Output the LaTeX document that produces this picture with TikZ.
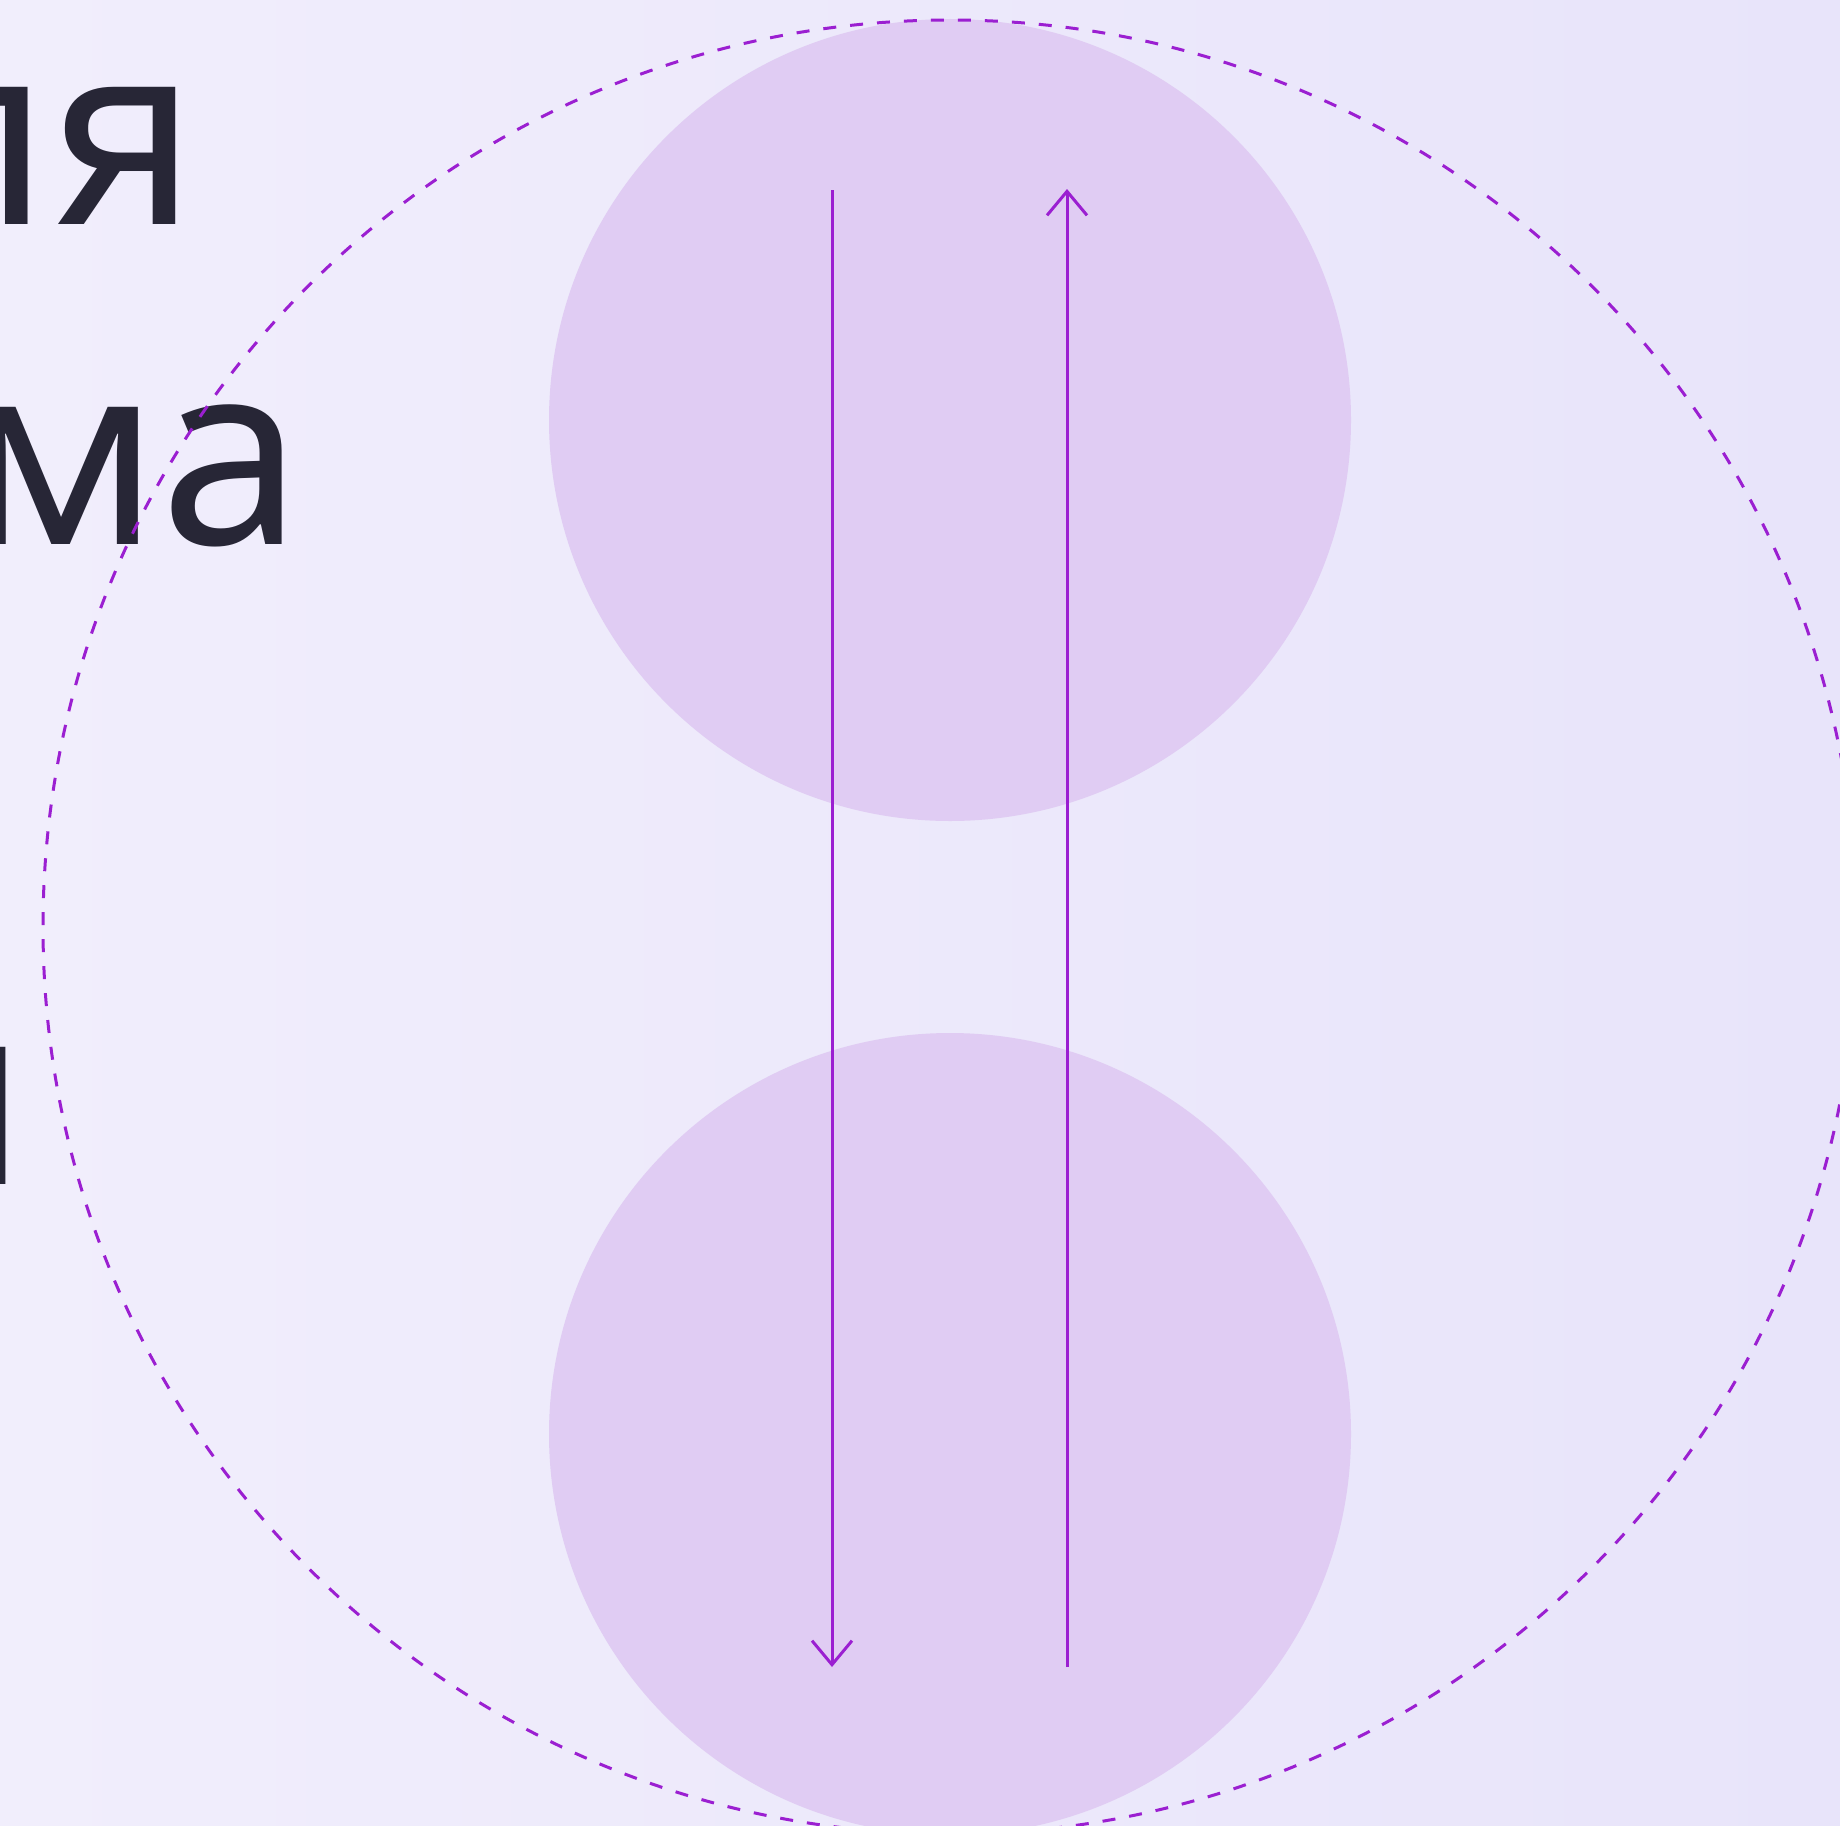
\documentclass[tikz,border=0pt]{standalone}
\usepackage{fontspec}
\setmainfont{Noto Sans}
\usetikzlibrary{arrows.meta}
\definecolor{bgL}{HTML}{F1EEFC}
\definecolor{bgR}{HTML}{E8E4FA}
\definecolor{lilac}{HTML}{E0CCF3}
\definecolor{vio}{HTML}{9B1FD1}
\definecolor{ink}{HTML}{272636}
\tikzset{
  blob/.style={circle, fill=lilac, draw=none, inner sep=0pt, minimum size=401pt},
  ring/.style={circle, draw=vio, line width=1.5pt, dash pattern=on 6.5pt off 7pt, inner sep=0pt, minimum size=907pt},
  flow/.style={vio, line width=1.5pt, -{Straight Barb[length=12pt, width=20pt]}},
  big/.style={font=\fontsize{128}{128}\selectfont, text=ink, inner sep=0pt, anchor=base east},
}
\begin{document}
\begin{tikzpicture}[x=0.5pt, y=-0.5pt]
  \useasboundingbox (0,0) rectangle (1840,1825);
  \clip (0,0) rectangle (1840,1825);
  \shade[left color=bgL, right color=bgR] (0,0) rectangle (1840,1825);
  % two discs inside the dashed ring
  \node[blob] (updisc) at (950,420) {};
  \node[blob] (lowdisc) at (950,1434) {};
  % words run off the left edge
  \node[big] (lineA) at (198,224) {ля};
  \node[big] (lineB) at (303,544) {ма};
  \node[big] (lineC) at (28,1184) {п};
  \node[ring] (outer) at (950,927) {};
  \coordinate (dnA) at (832,190);
  \coordinate (dnB) at (832,1667);
  \coordinate (upA) at (1067,1667);
  \coordinate (upB) at (1067,189);
  \draw[flow] (dnA) -- (dnB);
  \draw[flow] (upA) -- (upB);
\end{tikzpicture}
\end{document}
